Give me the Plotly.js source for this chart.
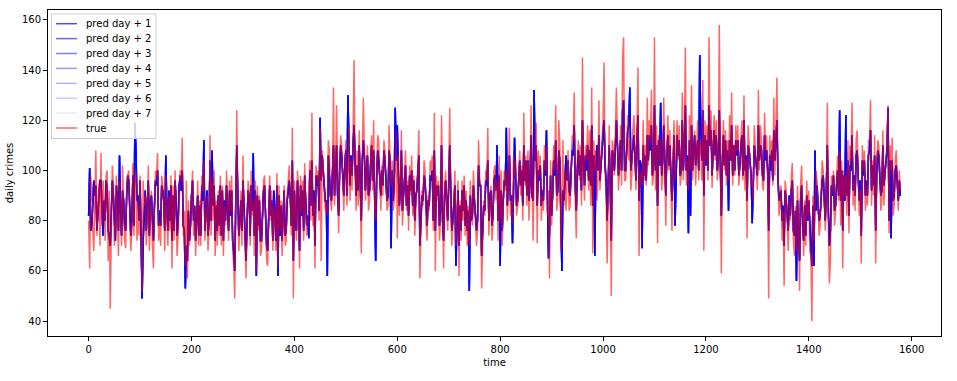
<!DOCTYPE html>
<html>
<head>
<meta charset="utf-8">
<script src="https://cdn.plot.ly/plotly-3.0.1.min.js"></script>
<style>html,body{margin:0;padding:0;background:#fff;}#chart{width:957px;height:381px;}</style>
</head>
<body>
<div id="chart"></div>
<script>
// Observed daily crimes, sampled every 2nd day (day = index * dayStep)
const dayStep = 2;
const trueValues = [
 80,61,98,92,76,68,88,108,74,84,95,70,107,78,96,
 90,72,98,100,64,92,45,88,102,94,70,76,98,82,66,
 96,78,70,102,86,72,69,94,98,100,80,68,76,103,74,
 96,100,72,86,74,98,78,52,96,86,90,70,80,102,68,
 84,92,70,61,88,100,98,107,72,80,70,98,94,86,68,
 98,82,70,90,76,98,61,94,72,100,86,66,74,92,100,
 96,113,74,84,62,96,57,88,70,80,94,100,74,86,66,
 78,96,70,88,70,98,92,104,72,82,90,68,76,114,74,
 96,80,100,66,88,70,92,74,98,70,94,66,86,78,100,
 90,72,96,84,98,68,62,49,92,124,86,68,78,92,70,
 106,84,70,57,78,96,92,70,100,82,88,66,96,60,94,
 76,90,66,68,84,96,98,74,64,62,88,98,80,92,68,
 86,82,68,99,62,94,76,88,66,80,94,70,72,90,98,
 102,88,74,117,49,96,80,72,100,92,61,98,84,96,72,
 103,86,74,78,94,104,80,123,78,88,61,102,96,100,80,
 117,64,108,102,94,84,86,82,112,108,88,84,96,133,86,
 98,126,86,75,104,114,110,92,84,100,112,86,96,118,88,
 104,92,114,144,100,84,108,86,116,96,67,106,129,110,88,
 96,110,84,88,104,114,92,120,86,80,100,114,112,94,84,
 102,90,112,108,98,84,86,118,104,94,104,84,88,110,116,
 73,106,82,94,116,78,88,100,108,84,96,76,102,90,106,
 82,98,74,88,94,102,116,57,78,92,86,104,100,78,72,
 90,84,104,100,106,76,123,60,98,88,96,72,80,122,76,
 61,92,100,86,76,98,125,88,70,78,94,100,70,84,96,
 58,88,72,96,80,98,74,92,70,86,70,96,82,78,100,
 90,84,70,76,112,98,92,53,74,88,82,100,96,117,74,
 86,94,72,78,100,102,88,96,72,106,80,100,70,90,100,
 92,100,80,96,117,82,88,79,106,98,104,82,86,94,108,
 90,102,80,123,94,106,86,108,80,92,126,84,72,100,110,
 119,71,108,98,106,80,90,84,110,100,110,82,92,57,104,
 78,94,110,100,126,84,88,120,110,68,92,112,86,100,84,
 94,108,84,86,100,114,112,131,88,73,104,112,96,110,86,
 145,98,88,110,104,118,92,116,86,133,67,112,100,108,88,
 96,128,92,106,112,120,143,100,90,63,104,118,90,50,112,
 108,98,120,133,112,92,100,118,94,145,153,96,96,110,122,
 104,112,92,98,116,122,108,92,118,141,66,96,100,94,120,
 96,110,94,129,102,120,112,132,94,98,153,92,118,71,114,
 104,112,92,98,129,96,78,108,122,100,116,92,76,104,120,
 96,110,120,104,118,94,98,131,96,112,149,94,104,92,122,
 100,134,96,108,116,94,104,120,96,112,110,96,136,68,120,
 104,118,96,153,110,124,93,112,122,104,120,96,100,158,94,
 59,108,120,100,116,94,112,96,122,104,131,94,110,98,118,
 108,118,94,100,112,120,96,130,92,104,73,118,110,102,94,
 96,88,118,110,104,92,132,100,118,112,94,92,123,108,114,
 96,49,114,104,112,94,129,98,116,137,100,82,86,94,72,
 84,54,96,92,76,68,88,80,98,103,72,66,86,68,94,
 80,52,94,102,74,66,88,70,96,82,92,68,66,40,90,
 72,84,100,96,88,74,78,92,104,100,84,76,90,127,78,
 55,64,98,92,100,78,84,96,106,88,108,78,104,61,100,
 90,98,82,112,75,110,104,127,86,96,84,112,116,100,82,
 92,63,110,100,108,84,94,86,112,112,128,86,104,90,114,
 63,96,112,110,102,84,88,116,86,98,106,112,126,75,110,
 100,113,82,86,104,108,96,84,100,92
];
// Predicted daily crimes (the seven horizons overlap almost exactly in the picture)
const predValues = [
 82,101,76,78,86,96,90,94,76,82,91,96,96,84,74,
 88,80,96,92,76,74,70,86,96,90,78,72,94,88,76,
 106,84,74,92,88,78,76,90,98,96,82,74,80,98,78,
 119,108,88,90,80,96,76,49,72,82,92,76,84,96,74,
 88,90,76,72,86,96,94,100,78,84,78,94,92,88,76,
 106,86,76,92,80,94,72,90,76,96,88,74,80,94,98,
 92,100,78,76,53,70,64,84,72,78,90,96,80,86,72,
 80,90,74,86,74,94,88,112,76,86,92,74,80,104,80,
 108,86,94,72,86,76,90,78,94,74,92,72,88,80,94,
 86,76,92,82,92,72,68,60,88,110,90,74,80,88,76,
 96,86,74,64,80,92,90,74,94,84,107,74,92,58,90,
 78,88,72,72,82,92,94,78,70,68,86,94,82,88,72,
 92,84,72,94,58,90,74,86,72,82,92,74,76,88,94,
 96,90,78,104,64,92,78,76,96,88,68,94,82,92,76,
 98,88,78,82,73,100,86,104,82,92,70,98,94,98,84,
 121,96,106,100,92,88,88,58,106,98,90,88,100,110,90,
 102,110,90,82,100,110,106,96,90,102,108,90,130,112,94,
 106,98,110,118,104,90,102,92,110,98,80,104,112,106,92,
 100,106,90,92,102,110,96,108,90,64,98,108,104,96,90,
 100,94,108,104,96,88,90,108,104,69,100,88,94,125,104,
 118,100,86,92,108,84,90,98,102,86,94,82,98,92,100,
 86,96,80,90,92,98,106,70,80,90,88,98,96,82,78,
 88,86,98,96,100,80,108,76,94,90,94,78,84,110,80,
 72,90,96,88,80,94,110,92,76,80,86,94,62,82,92,
 70,86,76,92,84,94,78,88,76,84,52,90,80,82,94,
 88,86,76,80,102,94,94,66,78,86,84,96,94,104,80,
 90,92,78,82,96,98,92,110,80,98,62,92,76,88,96,
 94,117,86,100,106,88,90,71,98,113,98,86,88,96,104,
 94,100,86,110,96,104,90,104,88,96,114,90,88,132,104,
 110,86,100,96,102,86,92,88,104,98,116,88,65,76,98,
 82,90,104,98,112,90,92,108,104,80,60,92,88,96,106,
 96,104,92,90,100,108,106,118,94,84,100,108,98,106,92,
 120,104,94,106,100,110,96,108,94,118,86,106,66,100,110,
 100,114,96,104,108,114,120,102,96,80,100,110,94,72,108,
 106,100,114,120,110,98,104,112,100,124,128,100,100,108,116,
 118,133,100,104,110,114,106,96,112,122,88,104,102,69,110,
 98,106,96,114,104,114,108,118,98,102,126,100,110,86,112,
 102,127,98,104,118,98,90,106,114,102,110,98,88,100,114,
 78,104,114,106,112,98,100,120,100,110,126,100,106,75,112,
 82,118,100,110,114,102,106,112,100,146,118,104,124,90,114,
 102,112,100,126,110,116,98,108,116,106,114,100,104,124,100,
 82,104,114,102,112,98,108,84,112,104,118,98,110,100,112,
 106,112,98,102,110,114,98,120,100,106,88,110,108,104,98,
 79,96,110,106,102,98,118,104,110,108,98,96,114,104,108,
 100,76,106,100,108,96,116,104,110,120,98,88,90,92,80,
 86,70,92,88,80,76,90,82,92,96,76,74,84,56,88,
 76,64,88,94,78,72,86,74,90,80,88,74,70,62,86,
 62,108,84,94,86,80,82,90,96,98,86,80,92,110,84,
 70,76,94,90,98,84,86,94,100,90,124,88,100,76,98,
 88,122,90,104,82,102,100,114,92,98,90,106,108,98,88,
 96,74,104,98,104,90,96,90,106,108,116,92,102,94,106,
 76,98,108,106,100,90,92,110,94,100,104,108,125,80,104,
 73,104,88,90,100,102,94,88,96,90
];
const predNames = ['pred day + 1','pred day + 2','pred day + 3','pred day + 4','pred day + 5','pred day + 6','pred day + 7'];
const predAlphas = [0.7,0.6,0.5,0.4,0.3,0.2,0.1];
const xTicks = [0,200,400,600,800,1000,1200,1400,1600];
const yTicks = [40,60,80,100,120,140,160];

const days = trueValues.map((_, i) => i * dayStep);
const predColors = predAlphas.map(a => 'rgba(0,0,255,' + a + ')');
const trueColor = 'rgba(255,0,0,0.6)';
const traces = predNames.map((name, k) => ({
  x: days, y: predValues, name: name, type: 'scatter', mode: 'lines',
  line: {color: predColors[k], width: 1.5}
}));
traces.push({
  x: days, y: trueValues, name: 'true', type: 'scatter', mode: 'lines',
  line: {color: trueColor, width: 1.5}
});

// Matplotlib-style legend box drawn with shapes/annotations (pixel layout -> paper coords)
const W = 957, H = 381, M = {l: 48, r: 16, t: 10, b: 45};
const pw = W - M.l - M.r, ph = H - M.t - M.b;
const px = v => (v - M.l) / pw;
const py = v => (H - M.b - v) / ph;
const legendNames = predNames.concat(['true']);
const legendColors = predColors.concat([trueColor]);
const shapes = [{type: 'rect', xref: 'paper', yref: 'paper', layer: 'above',
  x0: px(51.5), x1: px(156), y0: py(14), y1: py(138.5),
  fillcolor: 'rgba(255,255,255,0.8)', line: {color: '#cccccc', width: 1}}];
const annotations = [];
const legendFont = {family: 'DejaVu Sans', size: 10, color: '#000'};
legendNames.forEach((name, k) => {
  const yc = 23.7 + k * 14.9;
  shapes.push({type: 'line', xref: 'paper', yref: 'paper', layer: 'above',
    x0: px(56), x1: px(77), y0: py(yc), y1: py(yc),
    line: {color: legendColors[k], width: 1.5}});
  annotations.push({xref: 'paper', yref: 'paper', x: px(84), y: py(yc),
    xanchor: 'left', yanchor: 'middle', text: name, showarrow: false,
    font: legendFont});
});

const font = {family: 'DejaVu Sans', size: 10, color: '#000'};
const layout = {
  width: W, height: H,
  margin: {l: M.l, r: M.r, t: M.t, b: M.b, pad: 0},
  paper_bgcolor: '#fff', plot_bgcolor: '#fff',
  font: font,
  showlegend: false,
  shapes: shapes, annotations: annotations,
  xaxis: {range: [-79, 1657], tickvals: xTicks, ticktext: xTicks.map(String),
    ticks: 'outside', ticklen: 4, tickcolor: '#000', showline: true, mirror: true,
    linecolor: '#000', linewidth: 1, showgrid: false, zeroline: false,
    title: {text: 'time', font: font, standoff: 4}},
  yaxis: {range: [34.1, 163.9], tickvals: yTicks, ticktext: yTicks.map(String),
    ticks: 'outside', ticklen: 4, tickcolor: '#000', showline: true, mirror: true,
    linecolor: '#000', linewidth: 1, showgrid: false, zeroline: false,
    title: {text: 'daily crimes', font: font, standoff: 6}}
};
Plotly.newPlot('chart', traces, layout, {staticPlot: true, displayModeBar: false});
</script>
</body>
</html>
